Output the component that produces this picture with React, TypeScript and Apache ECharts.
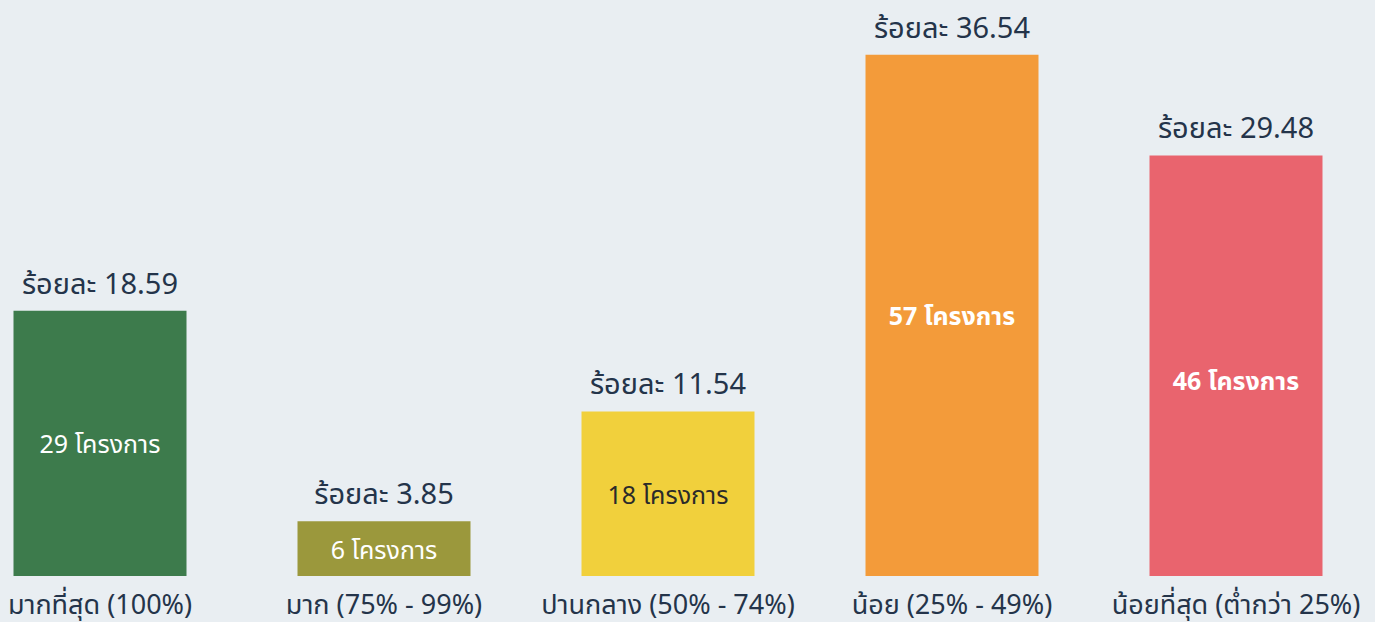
import React, { useEffect, useRef } from "react";
import * as echarts from "echarts";

const categories = [
  "มากที่สุด (100%)",
  "มาก (75% - 99%)",
  "ปานกลาง (50% - 74%)",
  "น้อย (25% - 49%)",
  "น้อยที่สุด (ต่ำกว่า 25%)",
];
const projectCounts = [29, 6, 18, 57, 46];
const percents = ["18.59", "3.85", "11.54", "36.54", "29.48"];
const barColors = ["#3d7b4c", "#9b983c", "#f1d03c", "#f39b3a", "#e9646e"];
const innerTextColors = ["#ffffff", "#ffffff", "#2a2a2a", "#ffffff", "#ffffff"];
const innerBold = [false, false, false, true, true];

export default function App() {
  const ref = useRef<HTMLDivElement>(null);
  useEffect(() => {
    if (!ref.current) return;
    const chart = echarts.init(ref.current, null, { renderer: "svg" });
    const font = "'Noto Sans', 'Noto Sans Thai', 'Liberation Sans', sans-serif";
    chart.setOption({
      animation: false,
      backgroundColor: "#e9eef2",
      textStyle: { fontFamily: font },
      grid: { left: 0, right: 0, top: 0, bottom: 46, containLabel: false },
      xAxis: {
        type: "category",
        data: categories,
        axisLine: { show: false },
        axisTick: { show: false },
        axisLabel: {
          color: "#24344a",
          fontSize: 27,
          margin: 14,
          fontFamily: font,
          interval: 0,
        },
      },
      yAxis: {
        type: "value",
        min: 0,
        max: 63,
        show: false,
        splitLine: { show: false },
      },
      series: [
        {
          type: "bar",
          barWidth: 173,
          data: projectCounts.map((v, i) => ({
            value: v,
            itemStyle: { color: barColors[i] },
            label: {
              show: true,
              position: "inside",
              offset: i === 4 ? [0, 14] : [0, 0],
              formatter: `${v} โครงการ`,
              color: innerTextColors[i],
              fontSize: 25,
              fontWeight: innerBold[i] ? "bold" : "normal",
              fontFamily: font,
            },
          })),
        },
        {
          type: "bar",
          barWidth: 173,
          barGap: "-100%",
          silent: true,
          itemStyle: { color: "transparent" },
          data: projectCounts.map((v, i) => ({
            value: v,
            label: {
              show: true,
              position: "top",
              distance: 14,
              formatter: `ร้อยละ ${percents[i]}`,
              color: "#24344a",
              fontSize: 29,
              fontFamily: font,
            },
          })),
        },
      ],
    });
    return () => chart.dispose();
  }, []);
  return (
    <div
      ref={ref}
      style={{ position: "fixed", left: -42, top: 0, width: 1420, height: 622 }}
    />
  );
}
